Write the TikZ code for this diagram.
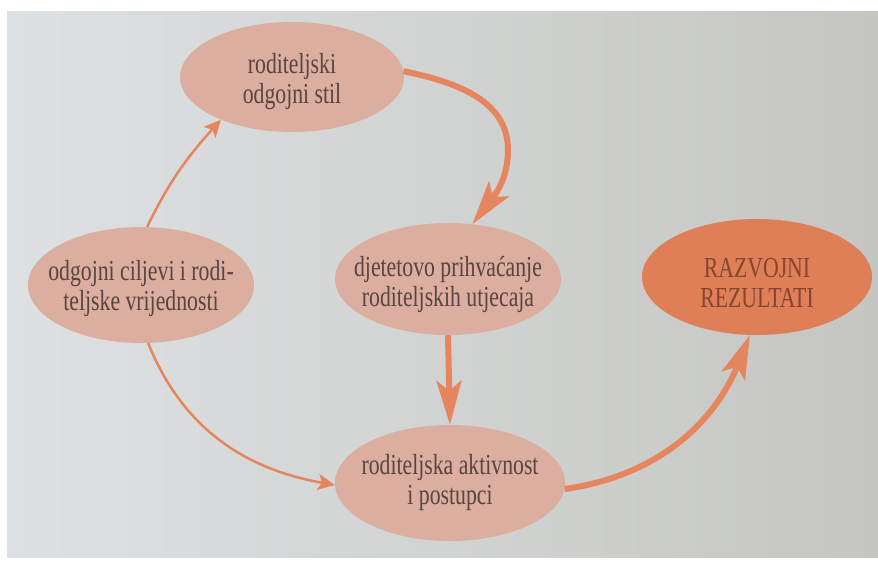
\documentclass[tikz,border=0pt]{standalone}
\usepackage{fontspec}
\setmainfont{Liberation Serif}[FakeStretch=0.75]
\usetikzlibrary{shapes.geometric,arrows.meta}
\definecolor{bgl}{HTML}{DEE1E3}
\definecolor{bgr}{HTML}{C5C6C2}
\definecolor{pale}{HTML}{DBAE9F}
\definecolor{strong}{HTML}{DF7F57}
\definecolor{arr}{HTML}{E6865E}
\definecolor{ink}{HTML}{584440}
\definecolor{inkstrong}{HTML}{86442F}
\begin{document}
\begin{tikzpicture}[x=1pt,y=1pt,
  blob/.style={ellipse, fill=pale, inner sep=0pt, minimum width=226pt, minimum height=112pt},
  txt/.style={align=center, text=ink, font=\fontsize{29}{30}\selectfont},
  thinarrow/.style={draw=arr, line width=2.5pt, -{Stealth[length=17pt,width=16pt,inset=4pt]}},
  thickarrow/.style={draw=arr, line width=6pt, -{Stealth[length=44pt,width=25pt,inset=10pt]}}]
\useasboundingbox (0,0) rectangle (878,-563);
\fill[white] (0,0) rectangle (878,-563);
\shade[left color=bgl, right color=bgr] (7,-11) rectangle (878,-557);
% nodes
\node[blob, minimum width=224pt, minimum height=110pt] (A) at (292,-77) {};
\node[blob, minimum height=116pt] (B) at (141,-285) {};
\node[blob] (C) at (448,-279) {};
\node[blob, fill=strong, minimum width=230pt, minimum height=116pt] (D) at (757,-277) {};
\node[blob, minimum width=230pt, minimum height=116pt] (E) at (450,-483) {};
\node[txt] (At) at (292,-82) {roditeljski\\odgojni stil};
\node[txt] (Bt) at (141,-289) {odgojni ciljevi i rodi-\\teljske vrijednosti};
\node[txt] (Ct) at (448,-284) {djetetovo prihvaćanje\\roditeljskih utjecaja};
\node[txt, text=inkstrong] (Dt) at (757,-283) {RAZVOJNI\\REZULTATI};
\node[txt] (Et) at (450,-483) {roditeljska aktivnost\\i postupci};
\coordinate (ac) at (508,-150);
% connectors
\draw[thinarrow] (B.84) to[out=64, in=228] (A.211);
\draw[thickarrow] (A.3) to[out=-12, in=90] (ac) to[out=-90, in=53] (C.66);
\draw[thickarrow] (C.south) -- (E.north);
\draw[thinarrow] (B.-83) to[out=-68, in=170] (E.181);
\draw[thickarrow] (E.-3) to[out=8, in=248] (D.-97);
\end{tikzpicture}
\end{document}
